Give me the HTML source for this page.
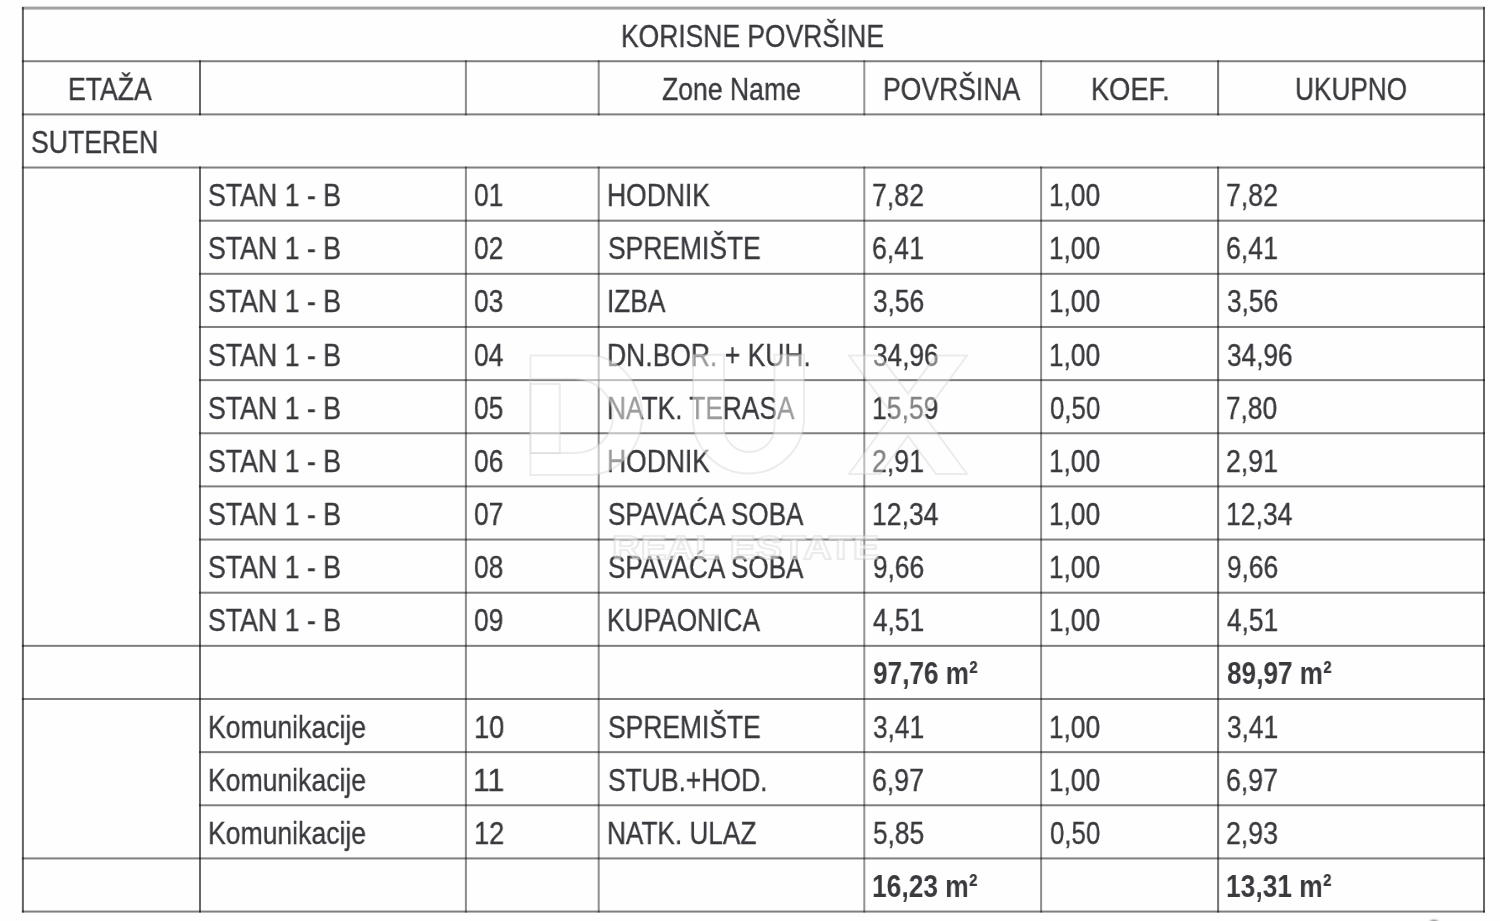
<!DOCTYPE html>
<html><head><meta charset="utf-8"><style>
html,body{margin:0;padding:0;background:#fefefe;}
body{width:1500px;height:921px;position:relative;overflow:hidden;font-family:"Liberation Sans",sans-serif;}
.l{position:absolute;mix-blend-mode:multiply}
.wm{position:absolute;left:0;top:0}
.t{position:absolute;font-size:31.6px;line-height:40px;height:40px;color:#39393e;white-space:nowrap;-webkit-text-stroke:0.35px #39393e}
.t span{display:inline-block;transform-origin:0 0;will-change:transform}
#pg{position:absolute;left:0;top:0;width:1500px;height:921px;background:#fefefe;}
</style></head><body><div id="pg">
<svg class="wm" width="1500" height="921" viewBox="0 0 1500 921"><g fill="#000"><rect x="21.90" y="6.60" width="1463.10" height="3.0" fill-opacity="0.36"/><rect x="21.90" y="60.24" width="1463.10" height="2.0" fill-opacity="0.5"/><rect x="21.90" y="113.39" width="1463.10" height="2.0" fill-opacity="0.5"/><rect x="21.90" y="166.53" width="1463.10" height="2.0" fill-opacity="0.5"/><rect x="199.00" y="219.68" width="1286.00" height="2.0" fill-opacity="0.5"/><rect x="199.00" y="272.82" width="1286.00" height="2.0" fill-opacity="0.5"/><rect x="199.00" y="325.97" width="1286.00" height="2.0" fill-opacity="0.5"/><rect x="199.00" y="379.12" width="1286.00" height="2.0" fill-opacity="0.5"/><rect x="199.00" y="432.26" width="1286.00" height="2.0" fill-opacity="0.5"/><rect x="199.00" y="485.40" width="1286.00" height="2.0" fill-opacity="0.5"/><rect x="199.00" y="538.55" width="1286.00" height="2.0" fill-opacity="0.5"/><rect x="199.00" y="591.70" width="1286.00" height="2.0" fill-opacity="0.5"/><rect x="21.90" y="644.84" width="1463.10" height="2.0" fill-opacity="0.5"/><rect x="21.90" y="697.99" width="1463.10" height="2.0" fill-opacity="0.5"/><rect x="199.00" y="751.13" width="1286.00" height="2.0" fill-opacity="0.5"/><rect x="199.00" y="804.28" width="1286.00" height="2.0" fill-opacity="0.5"/><rect x="21.90" y="857.42" width="1463.10" height="2.0" fill-opacity="0.5"/><rect x="21.90" y="910.57" width="1463.10" height="2.0" fill-opacity="0.5"/><rect x="21.90" y="7.10" width="2.0" height="905.47" fill-opacity="0.62"/><rect x="1483.00" y="7.10" width="2.0" height="905.47" fill-opacity="0.6"/><rect x="199.00" y="60.24" width="2.0" height="55.15" fill-opacity="0.6"/><rect x="199.00" y="166.53" width="2.0" height="746.03" fill-opacity="0.6"/><rect x="464.90" y="60.24" width="2.0" height="55.15" fill-opacity="0.45"/><rect x="464.90" y="166.53" width="2.0" height="746.03" fill-opacity="0.45"/><rect x="597.70" y="60.24" width="2.0" height="55.15" fill-opacity="0.44"/><rect x="597.70" y="166.53" width="2.0" height="746.03" fill-opacity="0.44"/><rect x="863.30" y="60.24" width="2.0" height="55.15" fill-opacity="0.42"/><rect x="863.30" y="166.53" width="2.0" height="746.03" fill-opacity="0.42"/><rect x="1040.10" y="60.24" width="2.0" height="55.15" fill-opacity="0.44"/><rect x="1040.10" y="166.53" width="2.0" height="746.03" fill-opacity="0.44"/><rect x="1217.10" y="60.24" width="2.0" height="55.15" fill-opacity="0.55"/><rect x="1217.10" y="166.53" width="2.0" height="746.03" fill-opacity="0.55"/></g></svg>
<div class="t" style="left:621.09px;top:15.70px;"><span style="transform:scaleX(0.8368)">KORISNE POVRŠINE</span></div>
<div class="t" style="left:67.88px;top:68.84px;"><span style="transform:scaleX(0.8412)">ETAŽA</span></div>
<div class="t" style="left:661.56px;top:68.84px;"><span style="transform:scaleX(0.8411)">Zone Name</span></div>
<div class="t" style="left:883.08px;top:68.84px;"><span style="transform:scaleX(0.8400)">POVRŠINA</span></div>
<div class="t" style="left:1090.82px;top:68.84px;"><span style="transform:scaleX(0.8616)">KOEF.</span></div>
<div class="t" style="left:1294.84px;top:68.84px;"><span style="transform:scaleX(0.8295)">UKUPNO</span></div>
<div class="t" style="left:31.11px;top:121.99px;"><span style="transform:scaleX(0.8429)">SUTEREN</span></div>
<div class="t" style="left:207.81px;top:175.13px;"><span style="transform:scaleX(0.8455)">STAN 1 - B</span></div>
<div class="t" style="left:474.46px;top:175.13px;"><span style="transform:scaleX(0.8364)">01</span></div>
<div class="t" style="left:607.09px;top:175.13px;"><span style="transform:scaleX(0.8378)">HODNIK</span></div>
<div class="t" style="left:872.11px;top:175.13px;"><span style="transform:scaleX(0.8448)">7,82</span></div>
<div class="t" style="left:1049.14px;top:175.13px;"><span style="transform:scaleX(0.8305)">1,00</span></div>
<div class="t" style="left:1226.21px;top:175.13px;"><span style="transform:scaleX(0.8448)">7,82</span></div>
<div class="t" style="left:207.81px;top:228.28px;"><span style="transform:scaleX(0.8455)">STAN 1 - B</span></div>
<div class="t" style="left:474.46px;top:228.28px;"><span style="transform:scaleX(0.8364)">02</span></div>
<div class="t" style="left:607.93px;top:228.28px;"><span style="transform:scaleX(0.8363)">SPREMIŠTE</span></div>
<div class="t" style="left:872.11px;top:228.28px;"><span style="transform:scaleX(0.8448)">6,41</span></div>
<div class="t" style="left:1049.14px;top:228.28px;"><span style="transform:scaleX(0.8305)">1,00</span></div>
<div class="t" style="left:1226.21px;top:228.28px;"><span style="transform:scaleX(0.8448)">6,41</span></div>
<div class="t" style="left:207.81px;top:281.43px;"><span style="transform:scaleX(0.8455)">STAN 1 - B</span></div>
<div class="t" style="left:474.46px;top:281.43px;"><span style="transform:scaleX(0.8364)">03</span></div>
<div class="t" style="left:607.11px;top:281.43px;"><span style="transform:scaleX(0.8313)">IZBA</span></div>
<div class="t" style="left:872.97px;top:281.43px;"><span style="transform:scaleX(0.8305)">3,56</span></div>
<div class="t" style="left:1049.14px;top:281.43px;"><span style="transform:scaleX(0.8305)">1,00</span></div>
<div class="t" style="left:1227.07px;top:281.43px;"><span style="transform:scaleX(0.8305)">3,56</span></div>
<div class="t" style="left:207.81px;top:334.57px;"><span style="transform:scaleX(0.8455)">STAN 1 - B</span></div>
<div class="t" style="left:474.46px;top:334.57px;"><span style="transform:scaleX(0.8364)">04</span></div>
<div class="t" style="left:607.08px;top:334.57px;"><span style="transform:scaleX(0.8384)">DN.BOR. + KUH.</span></div>
<div class="t" style="left:872.97px;top:334.57px;"><span style="transform:scaleX(0.8286)">34,96</span></div>
<div class="t" style="left:1049.14px;top:334.57px;"><span style="transform:scaleX(0.8305)">1,00</span></div>
<div class="t" style="left:1227.07px;top:334.57px;"><span style="transform:scaleX(0.8286)">34,96</span></div>
<div class="t" style="left:207.81px;top:387.72px;"><span style="transform:scaleX(0.8455)">STAN 1 - B</span></div>
<div class="t" style="left:474.46px;top:387.72px;"><span style="transform:scaleX(0.8364)">05</span></div>
<div class="t" style="left:607.10px;top:387.72px;"><span style="transform:scaleX(0.8320)">NATK. TERASA</span></div>
<div class="t" style="left:872.12px;top:387.72px;"><span style="transform:scaleX(0.8395)">15,59</span></div>
<div class="t" style="left:1049.98px;top:387.72px;"><span style="transform:scaleX(0.8167)">0,50</span></div>
<div class="t" style="left:1226.24px;top:387.72px;"><span style="transform:scaleX(0.8305)">7,80</span></div>
<div class="t" style="left:207.81px;top:440.86px;"><span style="transform:scaleX(0.8455)">STAN 1 - B</span></div>
<div class="t" style="left:474.46px;top:440.86px;"><span style="transform:scaleX(0.8364)">06</span></div>
<div class="t" style="left:607.09px;top:440.86px;"><span style="transform:scaleX(0.8378)">HODNIK</span></div>
<div class="t" style="left:872.11px;top:440.86px;"><span style="transform:scaleX(0.8448)">2,91</span></div>
<div class="t" style="left:1049.14px;top:440.86px;"><span style="transform:scaleX(0.8305)">1,00</span></div>
<div class="t" style="left:1226.21px;top:440.86px;"><span style="transform:scaleX(0.8448)">2,91</span></div>
<div class="t" style="left:207.81px;top:494.00px;"><span style="transform:scaleX(0.8455)">STAN 1 - B</span></div>
<div class="t" style="left:474.46px;top:494.00px;"><span style="transform:scaleX(0.8364)">07</span></div>
<div class="t" style="left:607.95px;top:494.00px;"><span style="transform:scaleX(0.8243)">SPAVAĆA SOBA</span></div>
<div class="t" style="left:872.12px;top:494.00px;"><span style="transform:scaleX(0.8395)">12,34</span></div>
<div class="t" style="left:1049.14px;top:494.00px;"><span style="transform:scaleX(0.8305)">1,00</span></div>
<div class="t" style="left:1226.22px;top:494.00px;"><span style="transform:scaleX(0.8395)">12,34</span></div>
<div class="t" style="left:207.81px;top:547.15px;"><span style="transform:scaleX(0.8455)">STAN 1 - B</span></div>
<div class="t" style="left:474.46px;top:547.15px;"><span style="transform:scaleX(0.8364)">08</span></div>
<div class="t" style="left:607.95px;top:547.15px;"><span style="transform:scaleX(0.8243)">SPAVAĆA SOBA</span></div>
<div class="t" style="left:872.97px;top:547.15px;"><span style="transform:scaleX(0.8305)">9,66</span></div>
<div class="t" style="left:1049.14px;top:547.15px;"><span style="transform:scaleX(0.8305)">1,00</span></div>
<div class="t" style="left:1227.07px;top:547.15px;"><span style="transform:scaleX(0.8305)">9,66</span></div>
<div class="t" style="left:207.81px;top:600.30px;"><span style="transform:scaleX(0.8455)">STAN 1 - B</span></div>
<div class="t" style="left:474.46px;top:600.30px;"><span style="transform:scaleX(0.8364)">09</span></div>
<div class="t" style="left:607.10px;top:600.30px;"><span style="transform:scaleX(0.8326)">KUPAONICA</span></div>
<div class="t" style="left:872.97px;top:600.30px;"><span style="transform:scaleX(0.8305)">4,51</span></div>
<div class="t" style="left:1049.14px;top:600.30px;"><span style="transform:scaleX(0.8305)">1,00</span></div>
<div class="t" style="left:1227.07px;top:600.30px;"><span style="transform:scaleX(0.8305)">4,51</span></div>
<div class="t" style="left:872.67px;top:653.44px;font-weight:bold;-webkit-text-stroke:0;"><span style="transform:scaleX(0.8280)">97,76 m²</span></div>
<div class="t" style="left:1227.17px;top:653.44px;font-weight:bold;-webkit-text-stroke:0;"><span style="transform:scaleX(0.8280)">89,97 m²</span></div>
<div class="t" style="left:208.28px;top:706.59px;"><span style="transform:scaleX(0.8413)">Komunikacije</span></div>
<div class="t" style="left:473.57px;top:706.59px;"><span style="transform:scaleX(0.8625)">10</span></div>
<div class="t" style="left:607.93px;top:706.59px;"><span style="transform:scaleX(0.8363)">SPREMIŠTE</span></div>
<div class="t" style="left:872.97px;top:706.59px;"><span style="transform:scaleX(0.8305)">3,41</span></div>
<div class="t" style="left:1049.14px;top:706.59px;"><span style="transform:scaleX(0.8305)">1,00</span></div>
<div class="t" style="left:1227.07px;top:706.59px;"><span style="transform:scaleX(0.8305)">3,41</span></div>
<div class="t" style="left:208.28px;top:759.73px;"><span style="transform:scaleX(0.8413)">Komunikacije</span></div>
<div class="t" style="left:473.40px;top:759.73px;"><span style="transform:scaleX(0.9517)">11</span></div>
<div class="t" style="left:607.93px;top:759.73px;"><span style="transform:scaleX(0.8371)">STUB.+HOD.</span></div>
<div class="t" style="left:872.11px;top:759.73px;"><span style="transform:scaleX(0.8448)">6,97</span></div>
<div class="t" style="left:1049.14px;top:759.73px;"><span style="transform:scaleX(0.8305)">1,00</span></div>
<div class="t" style="left:1226.21px;top:759.73px;"><span style="transform:scaleX(0.8448)">6,97</span></div>
<div class="t" style="left:208.28px;top:812.88px;"><span style="transform:scaleX(0.8413)">Komunikacije</span></div>
<div class="t" style="left:473.57px;top:812.88px;"><span style="transform:scaleX(0.8625)">12</span></div>
<div class="t" style="left:607.11px;top:812.88px;"><span style="transform:scaleX(0.8288)">NATK. ULAZ</span></div>
<div class="t" style="left:872.97px;top:812.88px;"><span style="transform:scaleX(0.8305)">5,85</span></div>
<div class="t" style="left:1049.98px;top:812.88px;"><span style="transform:scaleX(0.8167)">0,50</span></div>
<div class="t" style="left:1226.21px;top:812.88px;"><span style="transform:scaleX(0.8448)">2,93</span></div>
<div class="t" style="left:871.83px;top:866.02px;font-weight:bold;-webkit-text-stroke:0;"><span style="transform:scaleX(0.8347)">16,23 m²</span></div>
<div class="t" style="left:1226.33px;top:866.02px;font-weight:bold;-webkit-text-stroke:0;"><span style="transform:scaleX(0.8347)">13,31 m²</span></div>
<svg class="wm" width="1500" height="921" viewBox="0 0 1500 921">
<g fill="rgba(255,255,255,0.5)" stroke="rgba(200,200,200,0.35)" stroke-width="2" fill-rule="evenodd">
<path d="M530.5,355.6 H588 A54,59.7 0 0 1 588,475 H530.5 Z M530.5,379 V453 H575 A38,37 0 0 0 575,379 Z"/>
<path d="M530.5,384 H559.8 V453 H530.5 Z"/>
<path d="M693,354.7 V418 A55.5,55.5 0 0 0 804,418 V354.7 H774.5 V427 A25.25,25 0 0 1 724,427 V354.7 Z"/>
<path fill="rgba(255,255,255,0.38)" d="M849,355.6 H880 L908,393.7 L936,355.6 H967 L923.5,414.8 L967,474 H936 L908,435.9 L880,474 H849 L892.5,414.8 Z"/>
<text x="612" y="559" font-family="Liberation Sans" font-weight="bold" font-size="33" textLength="267" lengthAdjust="spacingAndGlyphs">REAL ESTATE</text>
</g></svg>
<div class="l" style="left:1428.5px;top:919.5px;width:10px;height:8px;border-radius:50%;background:#6c6c6c;filter:blur(0.8px)"></div>
</div></body></html>
